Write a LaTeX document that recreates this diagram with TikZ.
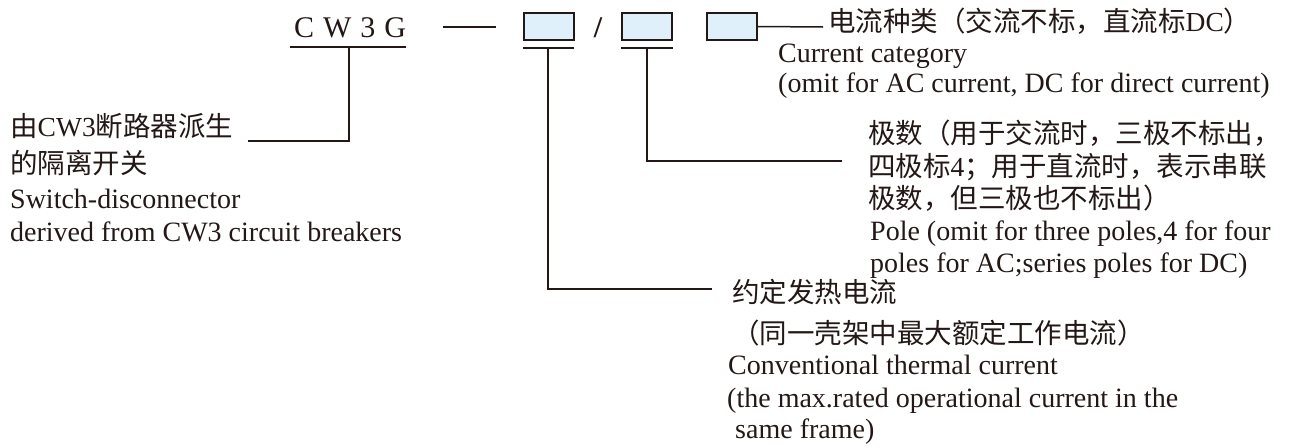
\documentclass[tikz,border=0pt]{standalone}
\usepackage{fontspec}
\setmainfont{Liberation Serif}
\newfontfamily\cjk{Noto Sans CJK SC}
\usepackage{tikz}
\definecolor{ink}{HTML}{231815}
\definecolor{slotfill}{HTML}{DFF0FA}
\newcommand{\romtxt}[1]{{\rmfamily #1}}
\tikzset{>=latex,
  lead/.style={line width=1.5pt,ink},
  slot/.style={draw=ink,line width=1.3pt,fill=slotfill,minimum width=50pt,
    minimum height=27pt,inner sep=0pt},
  zh/.style={anchor=base west,inner sep=0pt,ink,font=\cjk\fontsize{27.5}{33}\selectfont},
  en/.style={anchor=base west,inner sep=0pt,ink,font=\fontsize{28}{32}\selectfont}
}

\begin{document}
\begin{tikzpicture}[x=1pt,y=-1pt]
    \useasboundingbox (0,0) rectangle (1305,447);
    \node[en,anchor=base,font=\fontsize{30}{32}\selectfont] (model) at (350,37)
    {C\hspace{9pt}W\hspace{9pt}3\hspace{9pt}G};
    \draw[lead] (443,27) -- (496,27);
    \node[slot] (ratebox) at (549,26.5) {};
    \node[en,anchor=base,font=\fontsize{30}{32}\selectfont\bfseries] (slash) at (598,37) {/};
    \node[slot] (polebox) at (647,26.5) {};
    \node[slot] (kindbox) at (732,26.5) {};

    \coordinate (modelL) at (290,47);
    \coordinate (modelR) at (406,47);
    \coordinate (modelT) at (349,47);
    \coordinate (rateL) at (523,48);
    \coordinate (rateR) at (574,48);
    \coordinate (rateT) at (548,48);
    \coordinate (poleL) at (621,48);
    \coordinate (poleR) at (673,48);
    \coordinate (poleT) at (647,48);
    \coordinate (deriveEnd) at (248,141);
    \coordinate (rateEnd) at (712,289);
    \coordinate (poleEnd) at (842,161);
    \coordinate (kindEnd) at (823,27);

    \draw[lead] (modelL) -- (modelR);
    \draw[lead] (rateL) -- (rateR);
    \draw[lead] (poleL) -- (poleR);
    \draw[lead] (modelT) |- (deriveEnd);
    \draw[lead] (rateT) |- (rateEnd);
    \draw[lead] (poleT) |- (poleEnd);
    \draw[lead] (kindbox.east) -- (kindEnd);

    \node[zh] (kindzh) at (828,31) {电流种类（交流不标，直流标\romtxt{DC}）};
    \node[en] (kinden) at (778,62) {Current category};
    \node[en] (kindnote) at (778,92) {(omit for AC current, DC for direct current)};

    \node[zh] (polezh1) at (868,143) {极数（用于交流时，三极不标出，};
    \node[zh] (polezh2) at (868,176) {四极标\romtxt{4}；用于直流时，表示串联};
    \node[zh] (polezh3) at (868,208) {极数，但三极也不标出）};
    \node[en] (poleen1) at (870,240) {Pole (omit for three poles,4 for four};
    \node[en] (poleen2) at (870,272) {poles for AC;series poles for DC)};

    \node[zh] (derivezh1) at (10,136) {由\romtxt{CW3}断路器派生};
    \node[zh] (derivezh2) at (10,173) {的隔离开关};
    \node[en] (deriveen1) at (10,208) {Switch-disconnector};
    \node[en] (deriveen2) at (10,241) {derived from CW3 circuit breakers};

    \node[zh] (ratezh1) at (732,302) {约定发热电流};
    \node[zh] (ratezh2) at (732,343) {（同一壳架中最大额定工作电流）};
    \node[en] (rateen1) at (728,374) {Conventional thermal current};
    \node[en] (rateen2) at (727,407) {(the max.rated operational current in the};
    \node[en] (rateen3) at (735,438) {same frame)};
\end{tikzpicture}
\end{document}
